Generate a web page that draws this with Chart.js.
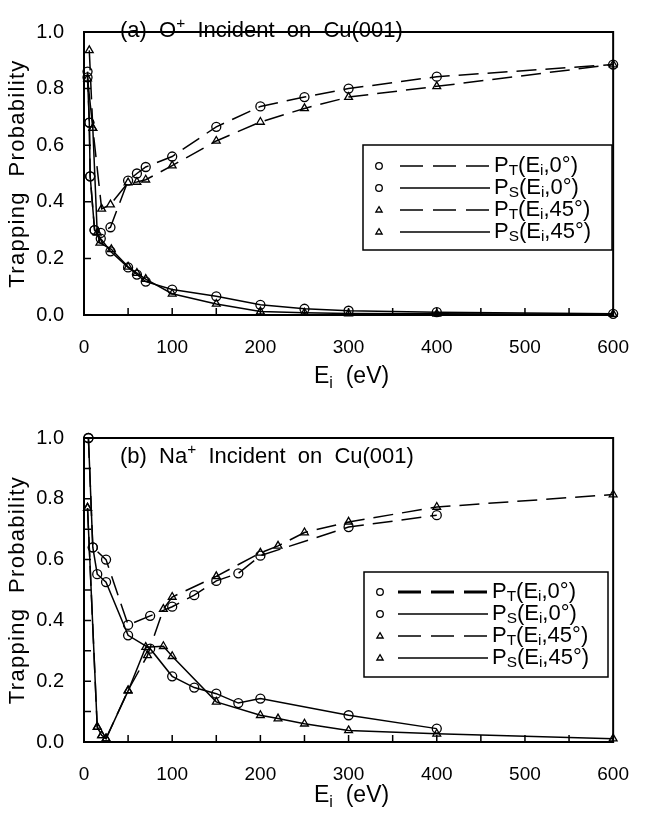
<!DOCTYPE html>
<html>
<head>
<meta charset="utf-8">
<script src="https://cdn.jsdelivr.net/npm/chart.js@4.4.0/dist/chart.umd.min.js"></script>
<style>
  body { margin: 0; background: #fff; width: 650px; height: 814px; position: relative; overflow: hidden; }
  canvas { position: absolute; left: 0; }
  #canvas-a { top: 0; }
  #canvas-b { top: 400px; }
</style>
</head>
<body>
<canvas id="canvas-a" width="650" height="400"></canvas>
<canvas id="canvas-b" width="650" height="414"></canvas>
<script>
// ---- data ----
// (a) O+ on Cu(001)
const aE_T0  = [4, 6, 7, 12, 19, 30, 50, 60, 70, 100, 150, 200, 250, 300, 400, 600]
const aP_T0  = [0.86, 0.68, 0.49, 0.30, 0.29, 0.31, 0.475, 0.50, 0.523, 0.56, 0.665, 0.737, 0.77, 0.80, 0.842, 0.885]
const aE_S0  = [4, 6, 7, 12, 19, 30, 50, 60, 70, 100, 150, 200, 250, 300, 400, 600]
const aP_S0  = [0.84, 0.68, 0.49, 0.30, 0.27, 0.225, 0.168, 0.143, 0.118, 0.09, 0.066, 0.036, 0.022, 0.015, 0.01, 0.004]
const aE_T45 = [6, 10, 20, 30, 50, 60, 70, 100, 150, 200, 250, 300, 400, 600]
const aP_T45 = [0.935, 0.66, 0.375, 0.39, 0.468, 0.47, 0.478, 0.528, 0.615, 0.682, 0.73, 0.77, 0.808, 0.885]
const aE_S45 = [4, 10, 15, 18, 31, 50, 60, 70, 100, 150, 200, 250, 300, 400, 600]
const aP_S45 = [0.835, 0.66, 0.29, 0.255, 0.232, 0.17, 0.148, 0.127, 0.075, 0.039, 0.012, 0.008, 0.005, 0.004, 0.003]

// (b) Na+ on Cu(001)
const bE_T0  = [5, 10, 25, 50, 75, 100, 125, 150, 175, 200, 300, 400]
const bP_T0  = [1.0, 0.64, 0.60, 0.385, 0.415, 0.445, 0.483, 0.53, 0.555, 0.613, 0.707, 0.746]
const bE_S0  = [5, 10, 15, 25, 50, 75, 100, 125, 150, 175, 200, 300, 400]
const bP_S0  = [1.0, 0.64, 0.552, 0.526, 0.351, 0.307, 0.216, 0.179, 0.159, 0.128, 0.143, 0.088, 0.044]
const bE_T45 = [4, 15, 20, 25, 50, 72, 90, 100, 150, 200, 220, 250, 300, 400, 600]
const bP_T45 = [0.77, 0.05, 0.022, 0.011, 0.17, 0.285, 0.437, 0.477, 0.545, 0.622, 0.645, 0.689, 0.724, 0.773, 0.814]
const bE_S45 = [4, 15, 20, 25, 50, 70, 90, 100, 150, 200, 220, 250, 300, 400, 600]
const bP_S45 = [0.77, 0.049, 0.022, 0.011, 0.168, 0.312, 0.315, 0.282, 0.132, 0.088, 0.077, 0.06, 0.038, 0.027, 0.011]

const xMin = 0, xMax = 600
const yMin = 0, yMax = 1

const FONT = '"Liberation Sans", Arial, sans-serif'
const DASH = [20, 9]

const pts = (E, P) => E.map((e, i) => ({ x: e, y: P[i] }))

function series(E, P, style, dashed) {
  return {
    data: pts(E, P),
    borderColor: '#000',
    borderWidth: 1.5,
    borderDash: dashed ? DASH : [],
    pointStyle: style,
    pointRadius: 4.5,
    pointBorderWidth: 1.3,
    pointBorderColor: '#000',
    pointBackgroundColor: 'rgba(0,0,0,0)',
    tension: 0,
    clip: false
  }
}

// text with sub/superscripts: parts = [[text, ''|'sub'|'sup'], ...]
function richText(ctx, parts, x, y, size) {
  parts.forEach(([t, m]) => {
    let s = m ? size * 0.7 : size
    let dy = m === 'sub' ? size * 0.2 : (m === 'sup' ? -size * 0.4 : 0)
    ctx.font = s + 'px ' + FONT
    ctx.fillText(t, x, y + dy)
    x += ctx.measureText(t).width
  })
  return x
}
function richWidth(ctx, parts, size) {
  let w = 0
  parts.forEach(([t, m]) => {
    ctx.font = (m ? size * 0.7 : size) + 'px ' + FONT
    w += ctx.measureText(t).width
  })
  return w
}

function marker(ctx, style, x, y, r) {
  ctx.beginPath()
  if (style === 'triangle') {
    ctx.moveTo(x, y - r)
    ctx.lineTo(x + r * 0.95, y + r * 0.6)
    ctx.lineTo(x - r * 0.95, y + r * 0.6)
    ctx.closePath()
  } else {
    ctx.arc(x, y, r, 0, Math.PI * 2)
  }
  ctx.stroke()
}

const legendLabels = [
  [['P', ''], ['T', 'sub'], ['(E', ''], ['i', 'sub'], [',0\u00B0)', '']],
  [['P', ''], ['S', 'sub'], ['(E', ''], ['i', 'sub'], [',0\u00B0)', '']],
  [['P', ''], ['T', 'sub'], ['(E', ''], ['i', 'sub'], [',45\u00B0)', '']],
  [['P', ''], ['S', 'sub'], ['(E', ''], ['i', 'sub'], [',45\u00B0)', '']]
]

const paperPlugin = {
  id: 'paper',
  afterDraw(chart, args, opts) {
    const ctx = chart.ctx
    const a = chart.chartArea
    const xs = chart.scales.x, ys = chart.scales.y
    ctx.save()
    ctx.strokeStyle = '#000'
    ctx.fillStyle = '#000'
    ctx.setLineDash([])

    // inward tick marks
    ctx.lineWidth = 1.5
    ctx.beginPath()
    xs.ticks.forEach(t => {
      const px = xs.getPixelForValue(t.value)
      ctx.moveTo(px, a.bottom)
      ctx.lineTo(px, a.bottom - 7)
    })
    ys.ticks.forEach(t => {
      const py = ys.getPixelForValue(t.value)
      ctx.moveTo(a.left, py)
      ctx.lineTo(a.left + 7, py)
    })
    ctx.stroke()

    // frame
    ctx.lineWidth = 2
    ctx.strokeRect(a.left, a.top, a.right - a.left, a.bottom - a.top)

    // panel title
    ctx.textBaseline = 'alphabetic'
    ctx.textAlign = 'left'
    richText(ctx, opts.title, opts.titleX, opts.titleY, 22)

    // axis titles
    const xt = [['E', ''], ['i', 'sub'], ['  (eV)', '']]
    const xw = richWidth(ctx, xt, 23)
    richText(ctx, xt, (a.left + a.right) / 2 + 3 - xw / 2, opts.xTitleY, 23)

    ctx.save()
    ctx.translate(opts.yTitleX, (a.top + a.bottom) / 2)
    ctx.rotate(-Math.PI / 2)
    ctx.font = '22px ' + FONT
    ctx.letterSpacing = '1.3px'
    ctx.textAlign = 'center'
    ctx.textBaseline = 'middle'
    ctx.fillText('Trapping  Probability', 0, 0)
    ctx.restore()

    // legend box
    const L = opts.legend
    ctx.lineWidth = 1.5
    ctx.strokeRect(L.x0, L.y0, L.x1 - L.x0, L.y1 - L.y0)
    chart.data.datasets.forEach((ds, i) => {
      const y = L.rows[i]
      ctx.lineWidth = 1.3
      ctx.setLineDash([])
      marker(ctx, ds.pointStyle, L.symX, y, 3.3)
      ctx.lineWidth = (L.bold && L.bold[i]) ? 3 : 1.5
      ctx.setLineDash(ds.borderDash.length ? [23, 10] : [])
      ctx.beginPath()
      ctx.moveTo(L.lineX0, y)
      ctx.lineTo(L.lineX1, y)
      ctx.stroke()
      ctx.setLineDash([])
      ctx.textBaseline = 'middle'
      richText(ctx, legendLabels[i], L.textX, y, 22)
    })
    ctx.restore()
  }
}

function axes(yStep, xAxisH) {
  return {
    x: {
      type: 'linear',
      min: xMin, max: xMax,
      grid: { display: false, drawTicks: false },
      border: { display: false },
      afterFit: s => { s.height = xAxisH },
      ticks: {
        stepSize: 50,
        autoSkip: false,
        maxRotation: 0,
        padding: 21,
        color: '#000',
        font: { family: FONT, size: 19 },
        callback: v => (v % 100 === 0 ? String(v) : '')
      }
    },
    y: {
      type: 'linear',
      min: yMin, max: yMax,
      grid: { display: false, drawTicks: false },
      border: { display: false },
      afterFit: s => { s.width = 84 },
      ticks: {
        stepSize: yStep,
        autoSkip: false,
        padding: 20,
        color: '#000',
        font: { family: FONT, size: 20 },
        callback: v => (Math.round(v * 10) % 2 === 0 ? v.toFixed(1) : '')
      }
    }
  }
}

// eslint-disable-next-line no-unused-vars
const chartA = new Chart(document.getElementById('canvas-a'), {
  type: 'line',
  data: {
    datasets: [
      series(aE_T0, aP_T0, 'circle', true),
      series(aE_S0, aP_S0, 'circle', false),
      series(aE_T45, aP_T45, 'triangle', true),
      series(aE_S45, aP_S45, 'triangle', false)
    ]
  },
  options: {
    responsive: false,
    animation: false,
    layout: { padding: { top: 12, right: 20, left: 0, bottom: 0 } },
    scales: axes(0.2, 85),
    plugins: {
      legend: { display: false },
      tooltip: { enabled: false },
      paper: {
        title: [['(a)  O', ''], ['+', 'sup'], ['  Incident  on  Cu(001)', '']],
        titleX: 120, titleY: 37,
        xTitleY: 383, yTitleX: 18,
        legend: { x0: 363, y0: 145, x1: 612, y1: 250, symX: 379, lineX0: 400, lineX1: 490, textX: 494, rows: [166, 188, 210, 232] }
      }
    }
  },
  plugins: [paperPlugin]
})

// eslint-disable-next-line no-unused-vars
const chartB = new Chart(document.getElementById('canvas-b'), {
  type: 'line',
  data: {
    datasets: [
      series(bE_T0, bP_T0, 'circle', true),
      series(bE_S0, bP_S0, 'circle', false),
      series(bE_T45, bP_T45, 'triangle', true),
      series(bE_S45, bP_S45, 'triangle', false)
    ]
  },
  options: {
    responsive: false,
    animation: false,
    layout: { padding: { top: 38, right: 19, left: 0, bottom: 0 } },
    scales: axes(0.1, 72),
    plugins: {
      legend: { display: false },
      tooltip: { enabled: false },
      paper: {
        title: [['(b)  Na', ''], ['+', 'sup'], ['  Incident  on  Cu(001)', '']],
        titleX: 120, titleY: 63,
        xTitleY: 402, yTitleX: 18,
        legend: { x0: 364, y0: 172, x1: 608, y1: 277, symX: 380, lineX0: 398, lineX1: 488, textX: 492, rows: [192, 214, 236, 258], bold: [true, false, false, false] }
      }
    }
  },
  plugins: [paperPlugin]
})
</script>
</body>
</html>
